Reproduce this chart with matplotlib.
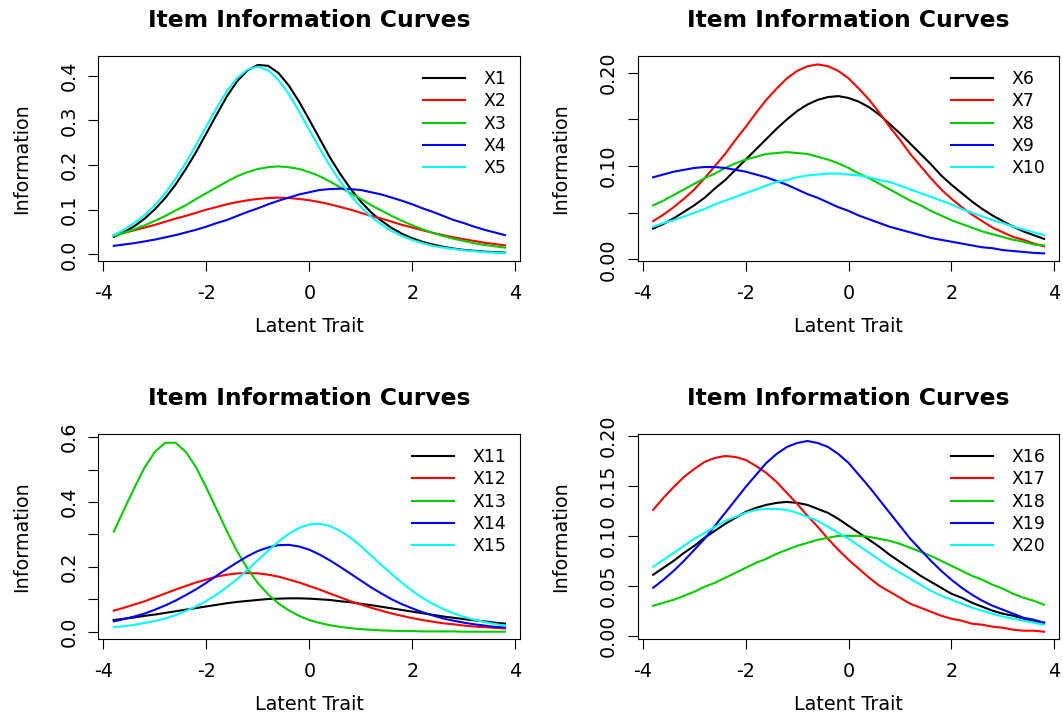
import matplotlib
matplotlib.use("Agg")
import matplotlib.pyplot as plt

plt.rcParams["font.family"] = ["DejaVu Sans"]
plt.rcParams["axes.unicode_minus"] = False

# latent trait grid the curves were read at
theta = [-3.8, -3.6, -3.4, -3.2, -3.0, -2.8, -2.6, -2.4, -2.2, -2.0,
         -1.8, -1.6, -1.4, -1.2, -1.0, -0.8, -0.6, -0.4, -0.2, 0.0,
         0.2, 0.4, 0.6, 0.8, 1.0, 1.2, 1.4, 1.6, 1.8, 2.0,
         2.2, 2.4, 2.6, 2.8, 3.0, 3.2, 3.4, 3.6, 3.8]

# panel 1
X1 = [0.039, 0.050, 0.063, 0.080, 0.101, 0.126, 0.156, 0.191, 0.229, 0.271,
      0.313, 0.354, 0.388, 0.412, 0.424, 0.422, 0.406, 0.378, 0.342, 0.301,
      0.259, 0.217, 0.180, 0.147, 0.118, 0.094, 0.075, 0.059, 0.046, 0.036,
      0.028, 0.022, 0.017, 0.013, 0.010, 0.008, 0.006, 0.005, 0.004]
X2 = [0.043, 0.048, 0.054, 0.060, 0.066, 0.073, 0.080, 0.086, 0.093, 0.100,
      0.106, 0.112, 0.117, 0.121, 0.124, 0.126, 0.127, 0.126, 0.124, 0.121,
      0.117, 0.112, 0.106, 0.100, 0.093, 0.086, 0.080, 0.073, 0.066, 0.060,
      0.054, 0.048, 0.043, 0.038, 0.034, 0.030, 0.026, 0.023, 0.020]
X3 = [0.041, 0.048, 0.056, 0.065, 0.075, 0.086, 0.098, 0.110, 0.124, 0.137,
      0.150, 0.163, 0.175, 0.184, 0.191, 0.195, 0.197, 0.195, 0.191, 0.184,
      0.175, 0.163, 0.150, 0.137, 0.124, 0.110, 0.098, 0.086, 0.075, 0.065,
      0.056, 0.048, 0.041, 0.035, 0.030, 0.025, 0.021, 0.018, 0.015]
X4 = [0.019, 0.022, 0.025, 0.029, 0.033, 0.038, 0.043, 0.049, 0.055, 0.062,
      0.070, 0.077, 0.086, 0.095, 0.103, 0.112, 0.120, 0.127, 0.134, 0.139,
      0.144, 0.146, 0.147, 0.146, 0.144, 0.139, 0.134, 0.127, 0.120, 0.112,
      0.103, 0.095, 0.086, 0.077, 0.070, 0.062, 0.055, 0.049, 0.043]
X5 = [0.043, 0.055, 0.070, 0.088, 0.110, 0.137, 0.169, 0.205, 0.245, 0.287,
      0.328, 0.366, 0.395, 0.414, 0.420, 0.412, 0.390, 0.359, 0.320, 0.278,
      0.237, 0.198, 0.163, 0.132, 0.106, 0.084, 0.067, 0.052, 0.041, 0.032,
      0.025, 0.019, 0.015, 0.012, 0.009, 0.007, 0.005, 0.004, 0.003]

# panel 2
X6 = [0.033, 0.038, 0.044, 0.051, 0.058, 0.066, 0.076, 0.085, 0.096, 0.107,
      0.118, 0.129, 0.140, 0.150, 0.159, 0.166, 0.171, 0.174, 0.175, 0.173,
      0.169, 0.163, 0.155, 0.145, 0.135, 0.124, 0.113, 0.102, 0.090, 0.080,
      0.071, 0.062, 0.054, 0.047, 0.041, 0.035, 0.030, 0.026, 0.022]
X7 = [0.041, 0.048, 0.056, 0.065, 0.075, 0.087, 0.100, 0.113, 0.128, 0.142,
      0.157, 0.171, 0.183, 0.194, 0.202, 0.207, 0.209, 0.207, 0.202, 0.194,
      0.183, 0.171, 0.157, 0.142, 0.128, 0.113, 0.100, 0.087, 0.075, 0.065,
      0.056, 0.048, 0.041, 0.034, 0.029, 0.024, 0.021, 0.017, 0.014]
X8 = [0.058, 0.063, 0.069, 0.075, 0.081, 0.087, 0.092, 0.098, 0.103, 0.107,
      0.110, 0.113, 0.114, 0.115, 0.114, 0.113, 0.110, 0.107, 0.103, 0.098,
      0.092, 0.087, 0.081, 0.075, 0.069, 0.063, 0.058, 0.052, 0.047, 0.042,
      0.038, 0.034, 0.030, 0.027, 0.024, 0.021, 0.019, 0.016, 0.015]
X9 = [0.088, 0.091, 0.094, 0.096, 0.098, 0.099, 0.099, 0.098, 0.096, 0.094,
      0.091, 0.088, 0.084, 0.080, 0.075, 0.070, 0.066, 0.061, 0.056, 0.052,
      0.047, 0.043, 0.039, 0.035, 0.032, 0.029, 0.026, 0.023, 0.021, 0.019,
      0.017, 0.015, 0.013, 0.012, 0.010, 0.009, 0.008, 0.007, 0.0065]
X10 = [0.035, 0.039, 0.042, 0.046, 0.050, 0.054, 0.059, 0.063, 0.067, 0.071,
       0.075, 0.079, 0.083, 0.085, 0.088, 0.090, 0.091, 0.092, 0.092, 0.091,
       0.090, 0.088, 0.085, 0.083, 0.079, 0.075, 0.071, 0.067, 0.063, 0.059,
       0.054, 0.050, 0.046, 0.042, 0.039, 0.035, 0.032, 0.029, 0.026]

# panel 3
X11 = [0.036, 0.040, 0.044, 0.049, 0.053, 0.058, 0.063, 0.068, 0.073, 0.078,
       0.083, 0.088, 0.092, 0.095, 0.098, 0.101, 0.102, 0.103, 0.103, 0.102,
       0.100, 0.098, 0.094, 0.091, 0.086, 0.082, 0.077, 0.072, 0.067, 0.062,
       0.057, 0.052, 0.047, 0.043, 0.039, 0.035, 0.032, 0.028, 0.025]
X12 = [0.065, 0.074, 0.084, 0.094, 0.106, 0.118, 0.130, 0.141, 0.152, 0.161,
       0.170, 0.176, 0.180, 0.181, 0.180, 0.176, 0.170, 0.161, 0.152, 0.141,
       0.130, 0.118, 0.106, 0.094, 0.084, 0.074, 0.065, 0.056, 0.049, 0.042,
       0.036, 0.031, 0.026, 0.023, 0.019, 0.016, 0.014, 0.012, 0.010]
X13 = [0.309, 0.377, 0.444, 0.507, 0.555, 0.583, 0.583, 0.555, 0.507, 0.444,
       0.377, 0.309, 0.247, 0.194, 0.150, 0.115, 0.087, 0.066, 0.049, 0.036,
       0.027, 0.020, 0.015, 0.011, 0.008, 0.006, 0.004, 0.003, 0.002, 0.002,
       0.001, 0.001, 0.001, 0.001, 0.000, 0.000, 0.000, 0.000, 0.000]
X14 = [0.032, 0.039, 0.047, 0.056, 0.068, 0.081, 0.096, 0.113, 0.131, 0.151,
       0.173, 0.194, 0.214, 0.233, 0.249, 0.260, 0.267, 0.268, 0.263, 0.253,
       0.238, 0.220, 0.200, 0.179, 0.158, 0.137, 0.118, 0.100, 0.085, 0.072,
       0.060, 0.050, 0.041, 0.034, 0.028, 0.023, 0.019, 0.015, 0.013]
X15 = [0.014, 0.017, 0.021, 0.027, 0.033, 0.041, 0.051, 0.064, 0.078, 0.095,
       0.115, 0.138, 0.163, 0.191, 0.221, 0.250, 0.278, 0.302, 0.320, 0.331,
       0.333, 0.326, 0.311, 0.290, 0.264, 0.235, 0.206, 0.178, 0.151, 0.126,
       0.104, 0.086, 0.070, 0.057, 0.046, 0.037, 0.030, 0.024, 0.019]

# panel 4
X16 = [0.061, 0.068, 0.075, 0.083, 0.090, 0.098, 0.105, 0.112, 0.118, 0.124,
       0.128, 0.131, 0.133, 0.134, 0.133, 0.131, 0.127, 0.123, 0.117, 0.110,
       0.103, 0.096, 0.089, 0.081, 0.074, 0.067, 0.060, 0.054, 0.048, 0.042,
       0.038, 0.033, 0.029, 0.025, 0.022, 0.020, 0.017, 0.015, 0.013]
X17 = [0.126, 0.138, 0.149, 0.159, 0.167, 0.174, 0.178, 0.180, 0.179, 0.176,
       0.170, 0.163, 0.154, 0.143, 0.132, 0.120, 0.109, 0.097, 0.086, 0.076,
       0.067, 0.058, 0.050, 0.044, 0.038, 0.032, 0.028, 0.024, 0.020, 0.017,
       0.015, 0.012, 0.011, 0.009, 0.008, 0.006, 0.005, 0.005, 0.004]
X18 = [0.030, 0.033, 0.036, 0.040, 0.044, 0.049, 0.053, 0.058, 0.063, 0.068,
       0.073, 0.077, 0.082, 0.086, 0.090, 0.093, 0.096, 0.098, 0.100, 0.100,
       0.100, 0.099, 0.097, 0.095, 0.092, 0.088, 0.084, 0.080, 0.075, 0.070,
       0.065, 0.060, 0.056, 0.051, 0.047, 0.042, 0.038, 0.035, 0.031]
X19 = [0.048, 0.056, 0.065, 0.075, 0.086, 0.097, 0.110, 0.123, 0.136, 0.149,
       0.161, 0.173, 0.182, 0.189, 0.193, 0.195, 0.193, 0.189, 0.182, 0.173,
       0.161, 0.149, 0.136, 0.123, 0.110, 0.097, 0.086, 0.075, 0.065, 0.056,
       0.048, 0.041, 0.035, 0.030, 0.026, 0.022, 0.018, 0.016, 0.013]
X20 = [0.069, 0.076, 0.083, 0.090, 0.097, 0.103, 0.109, 0.115, 0.119, 0.123,
       0.126, 0.127, 0.127, 0.126, 0.123, 0.119, 0.115, 0.109, 0.103, 0.097,
       0.090, 0.083, 0.076, 0.069, 0.063, 0.057, 0.051, 0.045, 0.040, 0.036,
       0.032, 0.028, 0.025, 0.022, 0.019, 0.017, 0.015, 0.013, 0.011]

x_ticks = [-4, -2, 0, 2, 4]
y_ticks_1 = [0.0, 0.1, 0.2, 0.3, 0.4]
y_labels_1 = ["0.0", "0.1", "0.2", "0.3", "0.4"]
y_ticks_2 = [0.00, 0.05, 0.10, 0.15, 0.20]
y_labels_2 = ["0.00", "", "0.10", "", "0.20"]
y_ticks_3 = [0.0, 0.1, 0.2, 0.3, 0.4, 0.5, 0.6]
y_labels_3 = ["0.0", "", "0.2", "", "0.4", "", "0.6"]
y_ticks_4 = [0.00, 0.05, 0.10, 0.15, 0.20]
y_labels_4 = ["0.00", "0.05", "0.10", "0.15", "0.20"]

colors = ["black", "#FF0000", "#00CD00", "#0000FF", "#00FFFF"]

panels = [
    (["X1", "X2", "X3", "X4", "X5"], [X1, X2, X3, X4, X5],
     y_ticks_1, y_labels_1, (-0.016, 0.444)),
    (["X6", "X7", "X8", "X9", "X10"], [X6, X7, X8, X9, X10],
     y_ticks_2, y_labels_2, (-0.0022, 0.218)),
    (["X11", "X12", "X13", "X14", "X15"], [X11, X12, X13, X14, X15],
     y_ticks_3, y_labels_3, (-0.024, 0.610)),
    (["X16", "X17", "X18", "X19", "X20"], [X16, X17, X18, X19, X20],
     y_ticks_4, y_labels_4, (-0.0038, 0.202)),
]

# axes boxes in figure fractions (left, bottom, width, height)
positions = [
    [0.0925, 0.6343, 0.3970, 0.2874],
    [0.5999, 0.6343, 0.3968, 0.2874],
    [0.0925, 0.1056, 0.3970, 0.2874],
    [0.5999, 0.1056, 0.3968, 0.2874],
]

fig = plt.figure(figsize=(10.63, 7.15), dpi=100)

for pos, (names, series, yt, ytl, ylim) in zip(positions, panels):
    ax = fig.add_axes(pos)

    for name, values, color in zip(names, series, colors):
        ax.plot(theta, values, color=color, linewidth=1.5, label=name)

    ax.set_xlim(-4.1, 4.1)
    ax.set_ylim(ylim)

    ax.set_xticks(x_ticks)
    ax.set_xticklabels([str(t) for t in x_ticks])
    ax.set_yticks(yt)
    ax.set_yticklabels(ytl, rotation=90, va="center")

    ax.tick_params(direction="out", length=7, width=0.8,
                   labelsize=13.8, colors="black")
    ax.tick_params(axis="x", pad=9)
    ax.tick_params(axis="y", pad=7)

    for spine in ax.spines.values():
        spine.set_linewidth(0.8)

    ax.set_title("Item Information Curves", fontsize=16.8,
                 fontweight="bold", pad=20.6)

    ax.set_xlabel("Latent Trait", fontsize=13.8)
    ax.xaxis.set_label_coords(0.5, -65 / 205.5)
    ax.xaxis.label.set_verticalalignment("center")

    ax.set_ylabel("Information", fontsize=13.8)
    ax.yaxis.set_label_coords(-77 / 422, 0.5)
    ax.yaxis.label.set_verticalalignment("center")

    ax.legend(loc="upper right", bbox_to_anchor=(1 - 14 / 422, 1 - 14 / 205.5),
              frameon=False, fontsize=12.4, handlelength=2.4,
              handletextpad=1.1, labelspacing=0.25, borderpad=0,
              borderaxespad=0)

fig.savefig("out.png", dpi=100)
